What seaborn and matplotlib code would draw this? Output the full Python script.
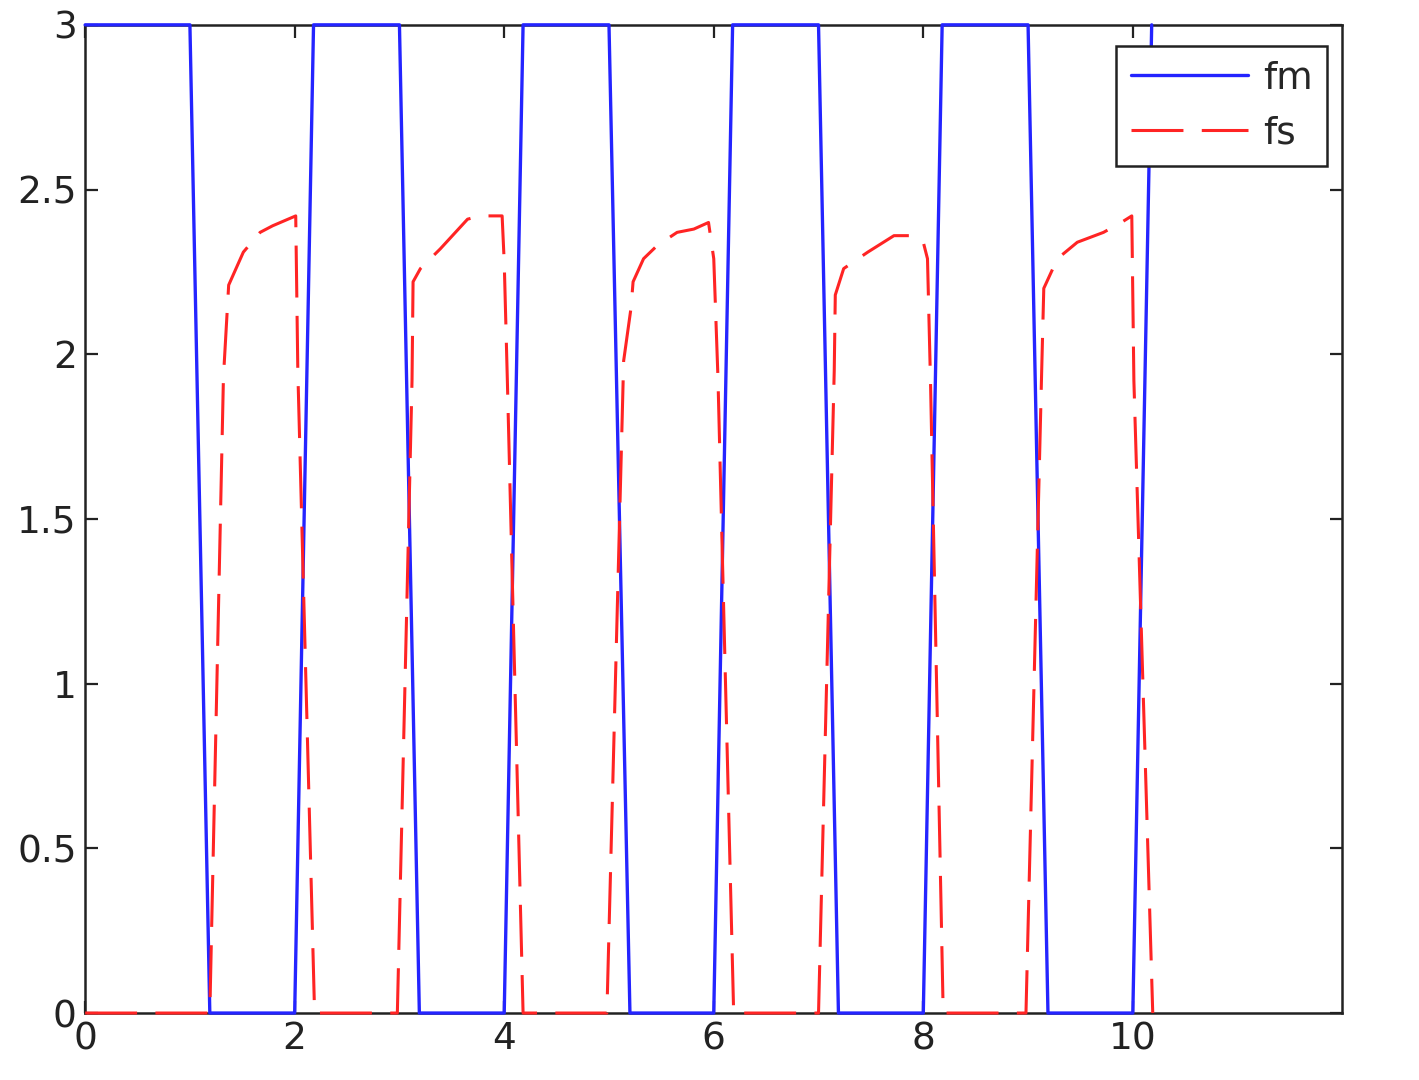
import matplotlib
matplotlib.use("Agg")
import matplotlib.pyplot as plt
import pandas as pd
import seaborn as sns

# fm: master signal, square wave between 0 and 3
FM_T = [0.0, 1.0, 1.19, 2.0, 2.18, 3.0, 3.19, 4.0, 4.18, 5.0, 5.2,
        6.0, 6.18, 7.0, 7.19, 8.0, 8.18, 9.0, 9.19, 10.0, 10.18]
FM_V = [3, 3, 0, 0, 3, 3, 0, 0, 3, 3, 0,
        0, 3, 3, 0, 0, 3, 3, 0, 0, 3]

# fs: slave response
FS_T = [0.0, 1.19, 1.32, 1.37, 1.51, 1.67, 1.79, 2.01, 2.03, 2.19,
        2.98, 3.12, 3.13, 3.20, 3.39, 3.65, 3.77, 3.98, 4.00, 4.03, 4.18,
        4.98, 5.14, 5.21, 5.23, 5.33, 5.46, 5.65, 5.81, 5.95, 6.00, 6.04, 6.19,
        7.00, 7.15, 7.16, 7.24, 7.47, 7.72, 7.91, 8.00, 8.04, 8.07, 8.19,
        8.98, 9.13, 9.15, 9.28, 9.47, 9.72, 9.89, 9.99, 10.01, 10.19]
FS_V = [0.0, 0.0, 1.93, 2.21, 2.31, 2.37, 2.39, 2.42, 1.95, 0.0,
        0.0, 1.92, 2.22, 2.26, 2.32, 2.41, 2.42, 2.42, 2.28, 1.92, 0.0,
        0.0, 1.98, 2.14, 2.22, 2.29, 2.33, 2.37, 2.38, 2.40, 2.29, 1.93, 0.0,
        0.0, 1.95, 2.18, 2.26, 2.31, 2.36, 2.36, 2.34, 2.29, 1.90, 0.0,
        0.0, 1.95, 2.20, 2.29, 2.34, 2.37, 2.40, 2.42, 1.92, 0.0]

X_TICKS = [0, 2, 4, 6, 8, 10]
Y_TICKS = [0, 0.5, 1, 1.5, 2, 2.5, 3]
Y_LABELS = ["0", "0.5", "1", "1.5", "2", "2.5", "3"]

sns.set_theme(style="ticks")
plt.rcParams["font.family"] = ["DejaVu Sans"]

fm = pd.DataFrame({"t": FM_T, "v": FM_V})
fs = pd.DataFrame({"t": FS_T, "v": FS_V})

fig = plt.figure(figsize=(14.19, 10.8), dpi=100)
ax = fig.add_axes([0.060, 0.062, 0.886, 0.915])

sns.lineplot(data=fm, x="t", y="v", ax=ax, sort=False, estimator=None,
             color="#2424ff", lw=2.4, label="fm", clip_on=False, zorder=3)
sns.lineplot(data=fs, x="t", y="v", ax=ax, sort=False, estimator=None,
             color="#ff2424", lw=2.2, linestyle=(0, (17, 6)), label="fs",
             clip_on=False, zorder=4)

ax.set_xlim(0, 12)
ax.set_ylim(0, 3)
ax.set_xticks(X_TICKS)
ax.set_yticks(Y_TICKS)
ax.set_yticklabels(Y_LABELS)
ax.set_xlabel("")
ax.set_ylabel("")
ax.tick_params(direction="in", length=9, width=1.6, top=True, right=True,
               labelsize=27, colors="#222222", pad=6)
for s in ax.spines.values():
    s.set_visible(True)
    s.set_linewidth(1.8)
    s.set_color("#222222")

leg = ax.legend(loc="upper right", bbox_to_anchor=(0.988, 0.979),
                fontsize=27, fancybox=False, framealpha=1,
                edgecolor="#222222", handlelength=3.1, handletextpad=0.4,
                borderpad=0.4, labelspacing=0.5, borderaxespad=0)
leg.get_frame().set_linewidth(1.8)

fig.savefig("out.png", dpi=100)
